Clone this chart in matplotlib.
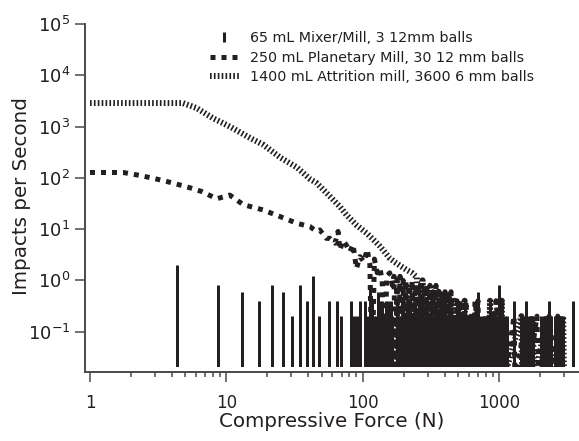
import numpy as np
import matplotlib
matplotlib.use("Agg")
import matplotlib.pyplot as plt
from matplotlib import ticker
from matplotlib.lines import Line2D

INK = "#231f20"
AXIS_INK = "#4a4a4a"

# 65 mL Mixer/Mill: impact-force histogram drawn as sticks
mixer_force = [4.35, 8.7, 13.05, 17.4, 21.75, 26.1, 30.45, 34.8, 39.15, 43.5,
               47.85, 56.55, 65.25, 69.6, 82.65, 87.0, 91.35, 95.7, 104.4, 108.75,
               113.1, 117.45, 121.8, 126.15, 130.5, 134.85, 139.2, 143.55, 147.9, 152.25,
               156.6, 160.95, 165.3,
               178.6, 188, 198, 208, 219, 230, 242, 255, 268, 282,
               297, 312, 328, 345, 363, 382, 402, 423, 445,
               468, 492, 518, 545, 560, 590, 620, 650, 676, 702,
               738, 777, 817, 860, 905, 950, 1001, 1053, 1108, 1140,
               1290, 1460, 1500, 1580, 1662, 1720, 1776, 2036, 2142, 2254,
               2330, 2420, 2560, 2690, 2830, 2960, 3497]
mixer_rate = [2.0, 0.8, 0.6, 0.4, 0.8, 0.6, 0.2, 0.8, 0.4, 1.2,
              0.2, 0.4, 0.4, 0.2, 0.4, 0.2, 0.2, 0.4, 0.4, 0.2,
              0.8, 0.4, 0.2, 0.2, 0.6, 0.4, 0.4, 0.2, 0.4, 0.4,
              0.2, 0.4, 0.2,
              0.4, 0.2, 0.4, 0.2, 0.4, 0.2, 0.4, 0.2, 0.4, 0.2,
              0.4, 0.2, 0.2, 0.4, 0.2, 0.2, 0.4, 0.2, 0.2,
              0.2, 0.4, 0.2, 0.2, 0.4, 0.2, 0.2, 0.2, 0.2, 0.6,
              0.2, 0.2, 0.2, 0.4, 0.2, 0.2, 0.8, 0.4, 0.2, 0.2,
              0.4, 0.2, 0.2, 0.4, 0.2, 0.2, 0.2, 0.2, 0.2, 0.2,
              0.4, 0.2, 0.2, 0.2, 0.2, 0.2, 0.4]

# 250 mL Planetary Mill (0 = empty bin)
planetary_force = [1.0, 1.75, 2.33, 3.0, 3.65, 4.6, 5.5, 6.6, 8.5, 10.6,
                   13.3, 18.6, 24.7, 32.8, 41, 45.8, 48.5, 54.1, 57.5, 62.7,
                   66, 68, 72, 75.8, 80.6, 85, 90, 95.6, 102, 108,
                   113, 117, 122, 128, 134, 139, 145, 150, 158, 165,
                   170, 174, 178.6, 183, 188, 193, 198, 203, 208, 213,
                   219, 224, 230, 236, 242, 248, 255, 261, 268, 275,
                   282, 289, 297, 304, 312, 320, 328, 336, 345, 354,
                   363, 372, 382, 392, 402, 412, 423, 434, 445, 456,
                   468, 480, 492, 505, 518, 530, 545, 560, 575, 590,
                   620, 640, 667, 685, 702, 720, 760, 780, 817, 840,
                   880, 905, 950, 975, 1001, 1030, 1080, 1100, 1290, 1310,
                   1580, 1620, 1900, 1950, 2330, 2400, 2700, 2800]
planetary_rate = [127, 127, 111, 96, 85, 72, 63, 54, 39, 46,
                  30, 23.6, 17.6, 13.0, 11.2, 9.0, 9.6, 6.6, 6.6, 5.3,
                  9.0, 3.9, 6.0, 4.9, 3.6, 5.0, 1.7, 2.9, 2.3, 4.0,
                  2.0, 0, 2.6, 1.4, 1.7, 1.0, 0, 1.2, 1.4, 0.8,
                  1.2, 0, 1.0, 0, 1.2, 0, 1.0, 0, 1.0, 0,
                  0.8, 0, 1.0, 0, 0.8, 0, 0.8, 0, 1.0, 0,
                  0.8, 0, 0.8, 0, 0.8, 0, 0.6, 0, 0.8, 0,
                  0.6, 0, 0.6, 0, 0.6, 0, 0.6, 0, 0.6, 0,
                  0.2, 0, 0.4, 0.2, 0.4, 0, 0.4, 0.2, 0.4, 0,
                  0.2, 0, 0.4, 0.2, 0.4, 0, 0.2, 0, 0.2, 0,
                  0.2, 0, 0.4, 0.2, 0.4, 0, 0.2, 0, 0.2, 0,
                  0.2, 0, 0.2, 0, 0.2, 0, 0.2, 0]

# 1400 mL Attrition mill (0 = empty bin)
attrition_force = [1.0, 4.8, 6.06, 8.0, 10.6, 14.9, 18.7, 24.8, 33, 41,
                   46, 55, 68, 76, 90, 107, 120, 134, 158, 175,
                   190, 210, 230, 250, 265, 275, 290, 300, 316, 330,
                   348, 360, 378, 392, 412, 430, 450, 472, 488, 510,
                   530, 560, 580, 610, 630, 690, 710, 800, 830, 860,
                   880, 920, 940, 1050, 1070, 1460, 1480, 1776, 1800, 2254,
                   2290, 2960, 3000]
attrition_rate = [2870, 2870, 2290, 1450, 1000, 600, 440, 250, 159, 95,
                  79, 49, 27.5, 19, 12, 8.3, 6.2, 4.6, 2.7, 2.2,
                  1.9, 1.6, 1.4, 1.15, 0, 1.0, 0, 0.8, 0, 0.8,
                  0, 0.6, 0, 0.6, 0, 0.6, 0, 0.4, 0, 0.2,
                  0, 0.4, 0, 0.2, 0, 0.2, 0, 0.2, 0, 0.4,
                  0, 0.2, 0, 0.4, 0, 0.2, 0, 0.2, 0, 0.2,
                  0, 0.2, 0]

series_labels = ["65 mL Mixer/Mill, 3 12mm balls",
                 "250 mL Planetary Mill, 30 12 mm balls",
                 "1400 mL Attrition mill, 3600 6 mm balls"]
x_tick_values = [1, 10, 100, 1000]
y_tick_values = [1e-1, 1e0, 1e1, 1e2, 1e3, 1e4, 1e5]
x_label = "Compressive Force (N)"
y_label = "Impacts per Second"

plt.rcParams["font.family"] = ["DejaVu Sans"]

fig = plt.figure(figsize=(5.79, 4.41), dpi=100)
ax = fig.add_axes([0.15544, 0.16780, 0.84456, 0.77778])
ax.set_xscale("log")
ax.set_yscale("log")
x_min, x_max = 1.0, 3864.0
y_min, y_max = 0.0204, 1e5
ax.set_xlim(x_min, x_max)
ax.set_ylim(y_min, y_max)


def drop_empty_bins(rate):
    # empty bins are drawn down past the plot floor
    rate = np.asarray(rate, dtype=float)
    return np.where(rate > 0, rate, y_min / 2)


ax.vlines(mixer_force, y_min, mixer_rate, colors=INK, linewidth=2.16, zorder=2)
planetary_line, = ax.plot(planetary_force, drop_empty_bins(planetary_rate),
                          color=INK, lw=3.6, dashes=(1.0, 1.2),
                          dash_capstyle="butt", zorder=3)
attrition_line, = ax.plot(attrition_force, drop_empty_bins(attrition_rate),
                          color=INK, lw=4.3, dashes=(0.28, 0.37),
                          dash_capstyle="butt", zorder=4)

mixer_handle = Line2D([], [], linestyle="None", marker="|", markersize=7.5,
                      markeredgewidth=2.2, color=INK)
ax.legend([mixer_handle, planetary_line, attrition_line], series_labels,
          loc="upper left", bbox_to_anchor=(210 / 579, 1 - 31.5 / 441),
          bbox_transform=fig.transFigure, frameon=False, fontsize=10.3,
          handlelength=2.0, handletextpad=0.8, labelspacing=0.36,
          borderpad=0, borderaxespad=0, numpoints=1, labelcolor=INK)

for side in ("top", "right"):
    ax.spines[side].set_visible(False)
for side in ("left", "bottom"):
    ax.spines[side].set_position(("outward", 3.6))
    ax.spines[side].set_color(AXIS_INK)
    ax.spines[side].set_linewidth(1.4)
ax.spines["left"].set_bounds(0.0163, y_max)
ax.spines["bottom"].set_bounds(0.919, x_max)

ax.xaxis.set_major_locator(ticker.FixedLocator(x_tick_values))
ax.xaxis.set_major_formatter(ticker.FixedFormatter([str(v) for v in x_tick_values]))
ax.xaxis.set_minor_locator(ticker.FixedLocator(
    [m * d for d in (1, 10, 100, 1000) for m in range(2, 10) if m * d < x_max]))
ax.xaxis.set_minor_formatter(ticker.NullFormatter())
ax.yaxis.set_major_locator(ticker.FixedLocator(y_tick_values))
ax.yaxis.set_major_formatter(ticker.LogFormatterSciNotation())
ax.yaxis.set_minor_locator(ticker.NullLocator())
ax.tick_params(axis="both", which="major", direction="out", length=7.2,
               width=1.1, color=AXIS_INK, labelcolor=INK)
ax.tick_params(axis="x", which="minor", direction="out", length=3.6,
               width=1.1, color=AXIS_INK)
ax.tick_params(axis="x", which="major", labelsize=12, pad=8.6)
ax.tick_params(axis="y", which="major", labelsize=13, pad=3.5)

ax.set_xlabel(x_label, fontsize=14.3, color=INK)
ax.xaxis.set_label_coords(0.495, -0.131)
ax.set_ylabel(y_label, fontsize=14.3, color=INK)
ax.yaxis.set_label_coords(-0.120, 0.4985)

fig.savefig("out.png", dpi=100)
